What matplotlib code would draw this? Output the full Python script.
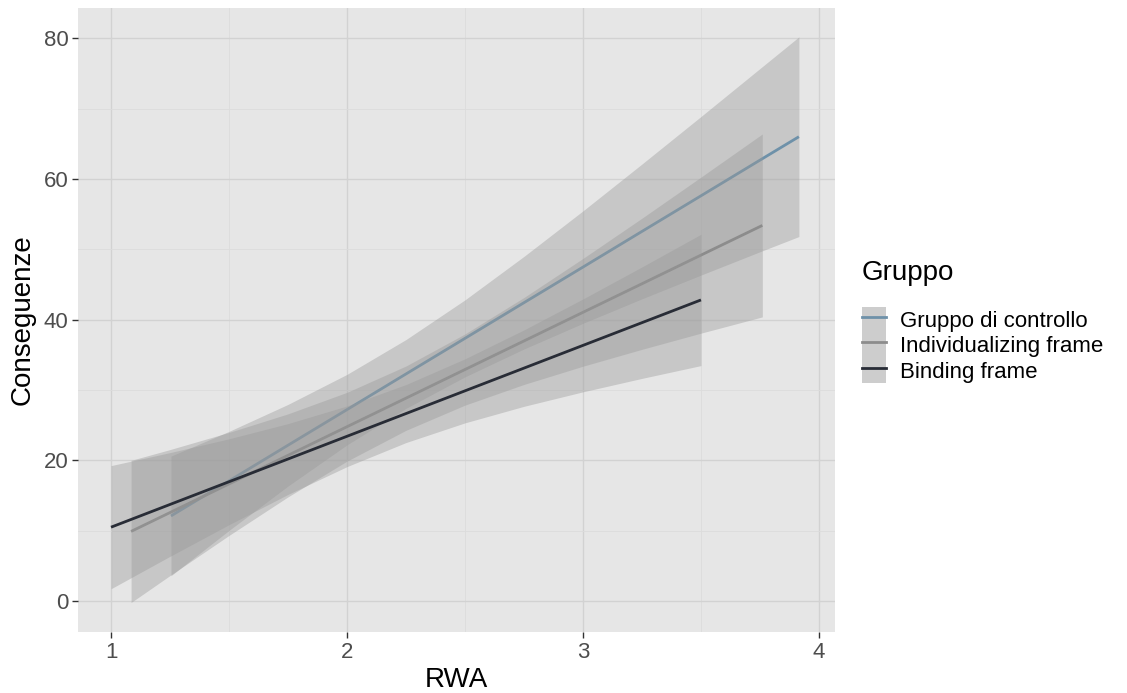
import numpy as np
import matplotlib.pyplot as plt
from matplotlib.patches import Patch
from matplotlib.lines import Line2D

plt.rcParams["font.family"] = ["Liberation Sans", "DejaVu Sans"]

#Data (fitted line + confidence band)
groups = ["Gruppo di controllo", "Individualizing frame", "Binding frame"]
colors = ["#6E91A9", "#8C8C8C", "#282C36"]

ctrl_x = [1.254, 1.5, 1.75, 2.0, 2.25, 2.5, 2.75, 3.0, 3.25, 3.5, 3.75, 3.915]
ctrl_fit = [12.1, 17.08, 22.15, 27.21, 32.28, 37.34, 42.41, 47.47, 52.54, 57.6, 62.67, 66.0]
ctrl_lo = [3.6, 10.04, 16.35, 22.2, 27.39, 31.87, 35.83, 39.48, 42.96, 46.33, 49.65, 51.81]
ctrl_hi = [20.6, 24.12, 27.95, 32.22, 37.17, 42.81, 48.99, 55.46, 62.12, 68.87, 75.69, 80.19]

indiv_x = [1.085, 1.25, 1.5, 1.75, 2.0, 2.25, 2.5, 2.75, 3.0, 3.25, 3.5, 3.76]
indiv_fit = [9.9, 12.58, 16.65, 20.71, 24.78, 28.84, 32.91, 36.97, 41.04, 45.1, 49.17, 53.39]
indiv_lo = [-0.2, 3.63, 9.33, 14.81, 19.89, 24.27, 27.85, 30.79, 33.38, 35.78, 38.08, 40.39]
indiv_hi = [20.0, 21.53, 23.97, 26.61, 29.67, 33.41, 37.97, 43.15, 48.7, 54.42, 60.26, 66.39]

bind_x = [1.0, 1.25, 1.5, 1.75, 2.0, 2.25, 2.5, 2.75, 3.0, 3.25, 3.5]
bind_fit = [10.5, 13.73, 16.96, 20.19, 23.42, 26.65, 29.88, 33.11, 36.34, 39.57, 42.8]
bind_lo = [1.75, 6.36, 10.86, 15.16, 19.11, 22.53, 25.33, 27.68, 29.74, 31.65, 33.47]
bind_hi = [19.25, 21.1, 23.06, 25.22, 27.73, 30.77, 34.43, 38.54, 42.94, 47.49, 52.13]

xs = [ctrl_x, indiv_x, bind_x]
fits = [ctrl_fit, indiv_fit, bind_fit]
los = [ctrl_lo, indiv_lo, bind_lo]
his = [ctrl_hi, indiv_hi, bind_hi]

#Plot
fig = plt.figure(figsize=(11.27, 6.93), dpi=100)
ax = fig.add_axes([0.0692, 0.088, 0.6717, 0.9005])
ax.set_facecolor("#E6E6E6")

for i in range(3):
    ax.fill_between(xs[i], los[i], his[i], color="#999999", alpha=0.4,
                    linewidth=0, zorder=2 + 2 * i)
    ax.plot(xs[i], fits[i], color=colors[i], linewidth=2.0,
            solid_capstyle="butt", zorder=3 + 2 * i)

ax.set_xlim(0.86, 4.068)
ax.set_ylim(-4.4, 84.3)
ax.set_xticks([1, 2, 3, 4])
ax.set_yticks([0, 20, 40, 60, 80])
ax.set_xticks([1.5, 2.5, 3.5], minor=True)
ax.set_yticks([10, 30, 50, 70], minor=True)
ax.grid(which="major", color="#D2D2D2", linewidth=1.0, zorder=0)
ax.grid(which="minor", color="#DCDCDC", linewidth=0.6, zorder=0)
ax.set_axisbelow(True)
for s in ax.spines.values():
    s.set_visible(False)
ax.tick_params(which="major", length=4, width=1, color="#333333",
               labelsize=16, labelcolor="#4D4D4D", pad=3)
ax.tick_params(which="minor", length=0)

ax.set_xlabel("RWA", fontsize=20, color="black", labelpad=3)
ax.set_ylabel("Conseguenze", fontsize=20, color="black", labelpad=6)

#Legend
handles = [(Patch(facecolor="#CDCDCD", linewidth=0),
            Line2D([], [], color=c, linewidth=2.0)) for c in colors]
leg = fig.legend(handles, groups, title="Gruppo", loc="upper left",
                 bbox_to_anchor=(0.7647, 0.625), frameon=False,
                 fontsize=16, title_fontsize=20, labelspacing=0,
                 handlelength=1.08, handleheight=1.39, handletextpad=0.63,
                 borderaxespad=0, borderpad=0)
leg._legend_box.align = "left"
leg._legend_box.sep = 15

fig.savefig("out.png", dpi=100)
